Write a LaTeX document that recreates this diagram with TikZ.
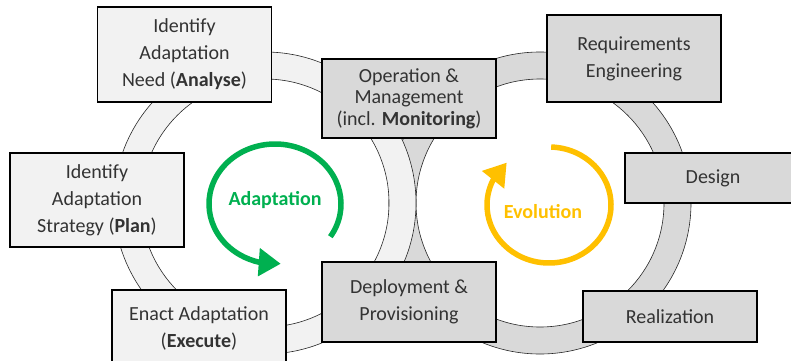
\documentclass[tikz,border=0pt]{standalone}
\usepackage{fontspec}
\setmainfont{Carlito}
\usepackage{tikz}
\usetikzlibrary{arrows.meta,bending}
\definecolor{adaptgreen}{HTML}{00B050}
\definecolor{evolyellow}{HTML}{FFC000}
\tikzset{ring/.style={draw=black!85, line width=0.6pt, even odd rule}}
\tikzset{lightbox/.style={draw=black, line width=1.5pt, fill=gray!10, text=black!80,
    align=center, minimum width=174pt, inner sep=0pt, font=\fontsize{20}{27}\selectfont}}
\tikzset{darkbox/.style={lightbox, fill=gray!30}}
\tikzset{cycle arrow/.style={line width=5.5pt, -{Triangle[length=22pt,width=27pt]}}}
\tikzset{cycle label/.style={font=\fontsize{20}{24}\selectfont\bfseries}}

\begin{document}
\begin{tikzpicture}[x=1pt,y=1pt]
\useasboundingbox (0,0) rectangle (791,360);
\coordinate (lc) at (265,157);
\coordinate (rc) at (540,157);

% the two loops, adaptation loop on top
\filldraw[ring, fill=gray!30] (rc) circle (151pt) (rc) circle (124pt);
\filldraw[ring, fill=gray!10] (lc) circle (151pt) (lc) circle (124pt);

% cycle arrows
\draw[cycle arrow, adaptgreen] (275,156) ++(-33:66pt and 60pt)
    arc[start angle=-33, end angle=275, x radius=66pt, y radius=60pt];
\node[cycle label, text=adaptgreen] (adapt) at (275,160) {Adaptation};
\draw[cycle arrow, evolyellow] (549,155) ++(88:62pt and 58pt)
    arc[start angle=88, end angle=-227, x radius=62pt, y radius=58pt];
\node[cycle label, text=evolyellow] (evol) at (543,148) {Evolution};

% adaptation steps
\node[lightbox, minimum height=95pt] (need) at (184.5,305.5) {Identify\\Adaptation\\Need (\textbf{Analyse})};
\node[lightbox, minimum height=94pt] (plan) at (97,160) {Identify\\Adaptation\\Strategy (\textbf{Plan})};
\node[lightbox, minimum height=76pt] (exec) at (199,32) {Enact Adaptation\\(\textbf{Execute})};

% shared steps
\node[darkbox, minimum height=79pt, font=\fontsize{20}{21.5}\selectfont] (oper) at (409,261.5) {Operation \&\\Management\\(incl. \textbf{Monitoring})};
\node[darkbox, minimum height=80pt] (deploy) at (409,58) {Deployment \&\\Provisioning};

% evolution steps
\node[darkbox, minimum height=87pt] (req) at (634,301.5) {Requirements\\Engineering};
\node[darkbox, minimum height=50pt, minimum width=176pt] (design) at (713,182) {Design};
\node[darkbox, minimum height=51pt] (real) at (670,43.5) {Realization};
\end{tikzpicture}
\end{document}
